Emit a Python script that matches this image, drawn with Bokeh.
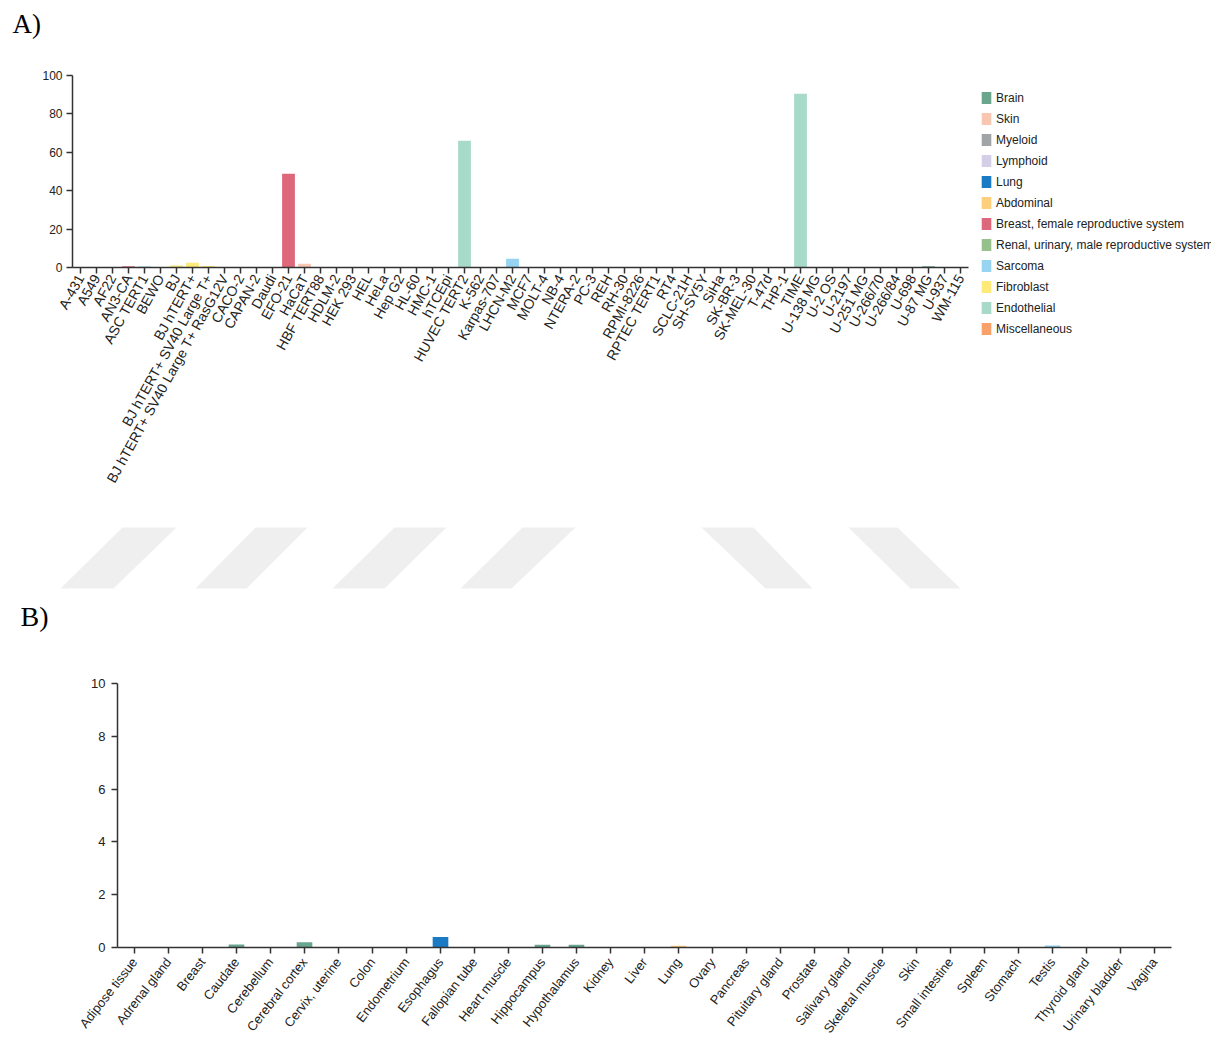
import math

from bokeh.core.properties import value
from bokeh.embed import file_html
from bokeh.models import (ColumnDataSource, FactorRange, FixedTicker, Legend,
                          LegendItem, Range1d)
from bokeh.plotting import figure
from bokeh.resources import INLINE

# ---------------------------------------------------------------- data
cell_lines = [
    "A-431", "A549", "AF22", "AN3-CA", "ASC TERT1", "BEWO", "BJ", "BJ hTERT+",
    "BJ hTERT+ SV40 Large T+", "BJ hTERT+ SV40 Large T+ RasG12V", "CACO-2",
    "CAPAN-2", "Daudi", "EFO-21", "HaCaT", "HBF TERT88", "HDLM-2", "HEK 293",
    "HEL", "HeLa", "Hep G2", "HL-60", "HMC-1", "hTCEpi", "HUVEC TERT2", "K-562",
    "Karpas-707", "LHCN-M2", "MCF7", "MOLT-4", "NB-4", "NTERA-2", "PC-3", "REH",
    "RH-30", "RPMI-8226", "RPTEC TERT1", "RT4", "SCLC-21H", "SH-SY5Y", "SiHa",
    "SK-BR-3", "SK-MEL-30", "T-47d", "THP-1", "TIME", "U-138 MG", "U-2 OS",
    "U-2197", "U-251 MG", "U-266/70", "U-266/84", "U-698", "U-87 MG", "U-937",
    "WM-115",
]

cell_line_values = [
    0.3, 0.0, 0.0, 0.7, 0.5, 0.0, 1.0, 2.5,
    0.8, 0.0, 0.0,
    0.0, 0.0, 48.8, 2.0, 0.0, 0.0, 0.0,
    0.0, 0.0, 0.0, 0.0, 0.0, 0.0, 66.0, 0.0,
    0.0, 4.5, 0.0, 0.0, 0.0, 0.0, 0.0, 0.0,
    0.0, 0.0, 0.0, 0.0, 0.0, 0.0, 0.0,
    0.0, 0.0, 0.0, 0.0, 90.5, 0.0, 0.3,
    0.0, 0.0, 0.0, 0.0, 0.0, 0.6, 0.0,
    0.0,
]

cell_line_groups = [
    "Skin", "Lung", "Brain", "Breast, female reproductive system", "Sarcoma",
    "Breast, female reproductive system", "Fibroblast", "Fibroblast",
    "Fibroblast", "Fibroblast", "Abdominal",
    "Abdominal", "Lymphoid", "Breast, female reproductive system", "Skin",
    "Fibroblast", "Lymphoid", "Renal, urinary, male reproductive system",
    "Myeloid", "Breast, female reproductive system", "Abdominal", "Myeloid",
    "Myeloid", "Miscellaneous", "Endothelial", "Myeloid",
    "Lymphoid", "Sarcoma", "Breast, female reproductive system", "Lymphoid",
    "Myeloid", "Renal, urinary, male reproductive system",
    "Renal, urinary, male reproductive system", "Lymphoid",
    "Sarcoma", "Lymphoid", "Renal, urinary, male reproductive system",
    "Renal, urinary, male reproductive system", "Lung", "Brain",
    "Breast, female reproductive system",
    "Breast, female reproductive system", "Skin",
    "Breast, female reproductive system", "Myeloid", "Endothelial", "Brain",
    "Sarcoma",
    "Sarcoma", "Brain", "Lymphoid", "Lymphoid", "Lymphoid", "Brain", "Myeloid",
    "Skin",
]

group_names = [
    "Brain", "Skin", "Myeloid", "Lymphoid", "Lung", "Abdominal",
    "Breast, female reproductive system",
    "Renal, urinary, male reproductive system", "Sarcoma", "Fibroblast",
    "Endothelial", "Miscellaneous",
]

tissues = [
    "Adipose tissue", "Adrenal gland", "Breast", "Caudate", "Cerebellum",
    "Cerebral cortex", "Cervix, uterine", "Colon", "Endometrium", "Esophagus",
    "Fallopian tube", "Heart muscle", "Hippocampus", "Hypothalamus", "Kidney",
    "Liver", "Lung", "Ovary", "Pancreas", "Pituitary gland", "Prostate",
    "Salivary gland", "Skeletal muscle", "Skin", "Small intestine", "Spleen",
    "Stomach", "Testis", "Thyroid gland", "Urinary bladder", "Vagina",
]

tissue_values = [
    0.0, 0.0, 0.0, 0.11, 0.0,
    0.2, 0.0, 0.0, 0.0, 0.4,
    0.0, 0.0, 0.1, 0.1, 0.0,
    0.0, 0.07, 0.0, 0.0, 0.0, 0.0,
    0.0, 0.0, 0.0, 0.0, 0.0,
    0.0, 0.08, 0.0, 0.0, 0.0,
]

tissue_groups = [
    "Adipose", "Endocrine", "Female", "Brain", "Brain",
    "Brain", "Female", "GI tract", "Female", "Proximal digestive",
    "Female", "Muscle", "Brain", "Brain", "Kidney",
    "Liver", "Lung", "Female", "Pancreas", "Endocrine", "Male",
    "Proximal digestive", "Muscle", "Skin", "GI tract", "Blood",
    "GI tract", "Male", "Endocrine", "Kidney", "Female",
]

panel_tags = ["A)", "B)"]

# ---------------------------------------------------------------- styling
group_colors = {
    "Brain": "#6aa68e",
    "Skin": "#f9c6b1",
    "Myeloid": "#a0a4a6",
    "Lymphoid": "#d4cee6",
    "Lung": "#1a7ac4",
    "Abdominal": "#fdce7c",
    "Breast, female reproductive system": "#de687b",
    "Renal, urinary, male reproductive system": "#96c08c",
    "Sarcoma": "#96d4f2",
    "Fibroblast": "#fdea78",
    "Endothelial": "#a8dac9",
    "Miscellaneous": "#f9a16a",
}

tissue_colors = {
    "Brain": "#6aa68e",
    "Proximal digestive": "#1a7ac4",
    "Lung": "#fdce7c",
    "Male": "#96d4f2",
}

TEXT = "#222222"
AXIS = "#333333"
SANS = "Liberation Sans"
SERIF = "Liberation Serif"
PAGE_W = 1211


def style_axes(p, x_angle, x_size, x_standoff, y_size, y_ticks, y_standoff):
    p.xgrid.visible = False
    p.ygrid.visible = False
    p.outline_line_color = None
    p.background_fill_color = "white"
    p.border_fill_color = "white"
    for ax in (p.xaxis[0], p.yaxis[0]):
        ax.axis_line_color = AXIS
        ax.axis_line_width = 1.5
        ax.major_tick_line_color = AXIS
        ax.major_tick_line_width = 1.5
        ax.major_tick_in = 0
        ax.major_tick_out = 6
        ax.minor_tick_line_color = None
        ax.major_label_text_color = TEXT
        ax.major_label_text_font = SANS
    p.xaxis.major_label_orientation = math.radians(x_angle)
    p.xaxis.major_label_text_font_size = x_size
    p.xaxis.major_label_standoff = x_standoff
    p.yaxis.major_label_text_font_size = y_size
    p.yaxis.major_label_standoff = y_standoff
    p.yaxis.ticker = FixedTicker(ticks=y_ticks)


def strip(top, bottom):
    """A plain full-width band whose data units are page pixels."""
    s = figure(
        x_range=Range1d(0, PAGE_W), y_range=Range1d(bottom, top),
        frame_width=PAGE_W, frame_height=bottom - top,
        min_border=0, x_axis_type=None, y_axis_type=None,
        toolbar_location=None, output_backend="svg",
    )
    s.xgrid.visible = False
    s.ygrid.visible = False
    s.outline_line_color = None
    s.background_fill_color = "white"
    s.border_fill_color = "white"
    return s


def tag(s, x, y, text, size):
    s.text(x=[x], y=[y], text=[text], text_font=value(SERIF),
           text_font_size=size, text_color="black",
           text_baseline="middle", text_align="left")


# ---------------------------------------------------------------- header with "A)"
HEAD_H = 60
ph = strip(0, HEAD_H)
tag(ph, 12, 23, panel_tags[0], "27px")

# ---------------------------------------------------------------- panel A
A_LEFT, A_TOP, A_W, A_H, A_HEIGHT = 72, 75 - HEAD_H, 896, 192, 520 - HEAD_H
A_BOTTOM = A_TOP + A_H

pa = figure(
    x_range=FactorRange(*cell_lines, range_padding=0),
    y_range=Range1d(0, 100),
    frame_width=A_W, frame_height=A_H,
    min_border_left=A_LEFT, min_border_right=PAGE_W - A_LEFT - A_W,
    min_border_top=A_TOP, min_border_bottom=A_HEIGHT - A_BOTTOM,
    toolbar_location=None, output_backend="svg",
)
style_axes(pa, 61, "14px", 2, "12px", [0, 20, 40, 60, 80, 100], 4)

legend_items = []
for g in group_names:
    idx = [i for i, grp in enumerate(cell_line_groups) if grp == g]
    src = ColumnDataSource(dict(
        x=[cell_lines[i] for i in idx],
        top=[cell_line_values[i] for i in idx],
    ))
    r = pa.vbar(x="x", top="top", width=0.8, source=src,
                fill_color=group_colors[g], line_color=None)
    legend_items.append(LegendItem(label=g, renderers=[r]))

LEG_ITEM_H, LEG_SPACING = 15, 6
leg_height = len(group_names) * LEG_ITEM_H + (len(group_names) - 1) * LEG_SPACING
leg_top = 90 - HEAD_H  # y of the first swatch's top edge inside this plot
legend = Legend(
    items=legend_items,
    location=(12, A_BOTTOM - leg_top - leg_height),
    orientation="vertical",
    border_line_color=None,
    background_fill_alpha=0,
    padding=0, margin=0, spacing=LEG_SPACING,
    glyph_width=12, glyph_height=LEG_ITEM_H, label_height=LEG_ITEM_H,
    label_standoff=4,
    label_text_font=SANS, label_text_font_size="12px",
    label_text_color=TEXT,
)
pa.add_layout(legend, "right")

# ---------------------------------------------------------------- watermark band with "B)"
W_TOP, W_BOTTOM = 520, 650
stripes_x = [
    [60, 113, 176, 122],
    [195, 246, 307, 255],
    [332, 384, 446, 394],
    [460, 511, 575, 522],
    [765, 812, 753, 701],
    [910, 960, 897, 848],
]
stripes_y = [[588, 588, 527, 527]] * len(stripes_x)

pw = strip(W_TOP, W_BOTTOM)
pw.patches(xs=stripes_x, ys=stripes_y, fill_color="#efefef", line_color=None)
tag(pw, 20, 616, panel_tags[1], "28px")

# ---------------------------------------------------------------- panel B
B_LEFT, B_TOP, B_W, B_H, B_HEIGHT = 117, 683 - W_BOTTOM, 1054, 264, 1041 - W_BOTTOM
B_BOTTOM = B_TOP + B_H

pb = figure(
    x_range=FactorRange(*tissues, range_padding=0),
    y_range=Range1d(0, 10),
    frame_width=B_W, frame_height=B_H,
    min_border_left=B_LEFT, min_border_right=PAGE_W - B_LEFT - B_W,
    min_border_top=B_TOP, min_border_bottom=B_HEIGHT - B_BOTTOM,
    toolbar_location=None, output_backend="svg",
)
style_axes(pb, 52, "13px", 6, "13px", [0, 2, 4, 6, 8, 10], 6)

src_b = ColumnDataSource(dict(
    x=tissues,
    top=tissue_values,
    color=[tissue_colors.get(g, "#cccccc") for g in tissue_groups],
))
pb.vbar(x="x", top="top", width=0.46, source=src_b,
        fill_color="color", line_color=None)

with open("out.html", "w") as f:
    f.write(file_html([ph, pa, pw, pb], INLINE))
